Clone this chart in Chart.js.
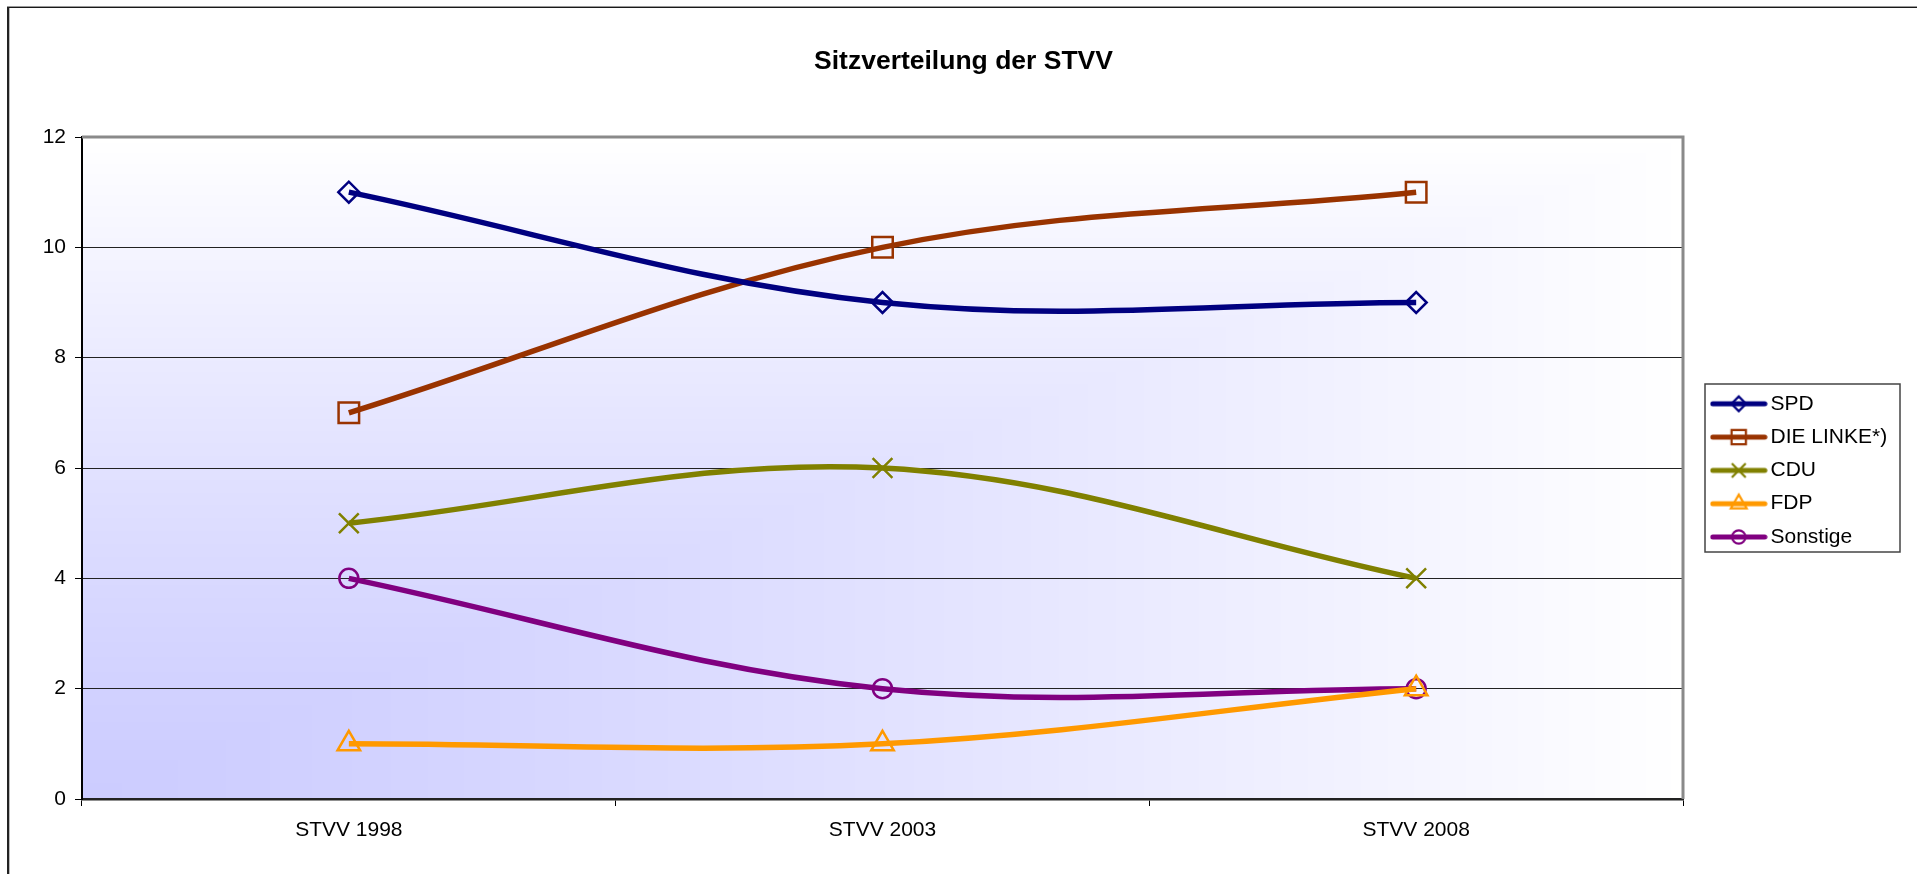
<!DOCTYPE html>
<html><head><meta charset="utf-8">
<script src="https://cdn.jsdelivr.net/npm/chart.js@4.4.1/dist/chart.umd.min.js"></script>
<style>html,body{margin:0;padding:0;background:#fff;overflow:hidden}canvas{display:block}</style>
</head><body>
<canvas id="c" width="1917" height="874"></canvas>
<script>
// ---- data ----
const categories = ['STVV 1998', 'STVV 2003', 'STVV 2008'];
const spd = [11, 9, 9];
const linke = [7, 10, 11];
const cdu = [5, 6, 4];
const fdp = [1, 1, 2];
const sonstige = [4, 2, 2];
const seriesNames = ['SPD', 'DIE LINKE*)', 'CDU', 'FDP', 'Sonstige'];
const yTicks = [0, 2, 4, 6, 8, 10, 12];
const titleText = 'Sitzverteilung der STVV';

// ---- styles ----
const FONT = "'Liberation Sans', Arial, sans-serif";
const colors = ['#000080', '#993300', '#808000', '#FF9900', '#800080'];
const styles = ['rectRot', 'rect', 'crossRot', 'triangle', 'circle'];
const radii = [10.5, 14.5, 14, 13, 9.5];

function drawShape(g, style, x, y, r) {
  g.beginPath();
  if (style === 'rectRot') {
    g.moveTo(x - r, y); g.lineTo(x, y - r); g.lineTo(x + r, y); g.lineTo(x, y + r); g.closePath();
  } else if (style === 'rect') {
    const s = r * Math.SQRT1_2; g.rect(x - s, y - s, 2 * s, 2 * s);
  } else if (style === 'crossRot') {
    const s = r * Math.SQRT1_2;
    g.moveTo(x - s, y - s); g.lineTo(x + s, y + s); g.moveTo(x - s, y + s); g.lineTo(x + s, y - s);
  } else if (style === 'triangle') {
    for (let k = 0; k < 3; k++) {
      const a = k * 2 * Math.PI / 3;
      const px = x + Math.sin(a) * r, py = y - Math.cos(a) * r;
      if (k === 0) g.moveTo(px, py); else g.lineTo(px, py);
    }
    g.closePath();
  } else {
    g.arc(x, y, r, 0, Math.PI * 2);
  }
  g.stroke();
}

function legendIcon(color, style, r) {
  const c = document.createElement('canvas');
  c.width = 58; c.height = 28;
  const g = c.getContext('2d');
  g.strokeStyle = color; g.lineWidth = 5; g.lineCap = 'round';
  g.beginPath(); g.moveTo(3, 14); g.lineTo(55, 14); g.stroke();
  g.lineWidth = 2.2; g.lineCap = 'butt';
  drawShape(g, style, 29, 14, r);
  return c;
}
const icons = colors.map((c, i) => legendIcon(c, styles[i], radii[i] * 0.7));

function ds(label, data, i) {
  return {
    label, data,
    borderColor: colors[i], backgroundColor: 'rgba(0,0,0,0)',
    borderWidth: 5.5, tension: 0.36, fill: false,
    pointStyle: styles[i], pointRadius: radii[i], pointHoverRadius: radii[i],
    pointBorderWidth: 2.5, pointBorderColor: colors[i], pointBackgroundColor: 'rgba(0,0,0,0)'
  };
}

let gradCache = null;
const framePlugin = {
  id: 'frame',
  beforeLayout(chart) {
    const lg = chart.legend;
    if (lg && !lg._patched) {
      const orig = lg.fit.bind(lg);
      lg.fit = function () { orig(); this.width = 234; };
      lg._patched = true;
    }
  },
  beforeDraw(chart) {
    const ctx = chart.ctx;
    const a = chart.chartArea;
    ctx.save();
    ctx.fillStyle = '#fff';
    ctx.fillRect(0, 0, chart.width, chart.height);
    // outer chart frame
    ctx.fillStyle = '#000';
    ctx.fillRect(7, 6.6, chart.width, 1.3);
    ctx.fillStyle = '#222';
    ctx.fillRect(7, 7, 2.3, chart.height);
    // plot background: gradient from bottom-left corner
    const w = Math.round(a.right - a.left), h = Math.round(a.bottom - a.top);
    if (!gradCache || gradCache.width !== w || gradCache.height !== h) {
      const oc = document.createElement('canvas');
      oc.width = w; oc.height = h;
      const og = oc.getContext('2d');
      const img = og.createImageData(w, h);
      for (let y = 0; y < h; y++) {
        const v = (h - y) / h;
        for (let x = 0; x < w; x++) {
          const u = x / w;
          const t = Math.pow(Math.max(u, v), 1.25);
          const c = Math.round(204 + 51 * t);
          const k = (y * w + x) * 4;
          img.data[k] = c; img.data[k + 1] = c; img.data[k + 2] = 255; img.data[k + 3] = 255;
        }
      }
      og.putImageData(img, 0, 0);
      gradCache = oc;
    }
    ctx.drawImage(gradCache, a.left, a.top);
    ctx.restore();
    // legend placement
    const lg = chart.legend;
    if (lg) {
      lg.left = 1705.1; lg.right = 1917; lg.width = lg.right - lg.left;
      lg.top = 381; lg.bottom = 874; lg.height = lg.bottom - lg.top;
    }
  },
  beforeDatasetsDraw(chart) {
    const ctx = chart.ctx;
    const a = chart.chartArea;
    ctx.save();
    ctx.strokeStyle = '#8a8a8a';
    ctx.lineWidth = 3;
    ctx.beginPath();
    ctx.moveTo(a.left, a.top); ctx.lineTo(a.right, a.top); ctx.lineTo(a.right, a.bottom);
    ctx.stroke();
    ctx.restore();
  },
  afterDraw(chart) {
    const ctx = chart.ctx;
    ctx.save();
    ctx.strokeStyle = '#444';
    ctx.lineWidth = 1.5;
    ctx.strokeRect(1705, 384, 195, 168);
    ctx.restore();
  }
};

new Chart(document.getElementById('c'), {
  type: 'line',
  data: {
    labels: categories,
    datasets: [
      ds(seriesNames[0], spd, 0),
      ds(seriesNames[1], linke, 1),
      ds(seriesNames[2], cdu, 2),
      ds(seriesNames[3], fdp, 3),
      ds(seriesNames[4], sonstige, 4)
    ]
  },
  options: {
    responsive: false,
    animation: false,
    devicePixelRatio: 1,
    layout: { padding: { left: 10, right: 0, top: 0, bottom: 0 } },
    plugins: {
      title: {
        display: true, text: titleText, color: '#000',
        font: { family: FONT, size: 26.5, weight: 'bold' },
        padding: { top: 45.5, bottom: 59.7 }
      },
      legend: {
        display: true, position: 'right', align: 'start', fullSize: false,
        labels: {
          usePointStyle: true, pointStyleWidth: 42.6, padding: 12.3, color: '#000',
          font: { family: FONT, size: 21 },
          generateLabels: chart => chart.data.datasets.map((d, i) => ({
            text: d.label, pointStyle: icons[i], rotation: 0,
            fillStyle: 'rgba(0,0,0,0)', strokeStyle: 'rgba(0,0,0,0)', lineWidth: 0,
            hidden: false, datasetIndex: i, fontColor: '#000'
          }))
        }
      },
      tooltip: { enabled: false }
    },
    scales: {
      x: {
        type: 'category', offset: true,
        grid: { display: true, drawOnChartArea: false, drawTicks: true, tickLength: 7, offset: true, color: '#000', tickColor: '#000', lineWidth: 1 },
        border: { display: true, color: '#222', width: 2.5 },
        ticks: { color: '#000', font: { family: FONT, size: 21 }, padding: 11.5, maxRotation: 0, autoSkip: false },
        afterFit(s) { s.height = 75; }
      },
      y: {
        min: 0, max: 12,
        afterBuildTicks(s) { s.ticks = yTicks.map(v => ({ value: v })); },
        grid: { color: '#222', tickColor: '#000', lineWidth: 1, tickLength: 7, drawTicks: true },
        border: { display: true, color: '#000', width: 2 },
        ticks: { color: '#000', font: { family: FONT, size: 21 }, padding: 9 },
        afterFit(s) { s.width = 72; }
      }
    }
  },
  plugins: [framePlugin]
});
</script>
</body></html>
